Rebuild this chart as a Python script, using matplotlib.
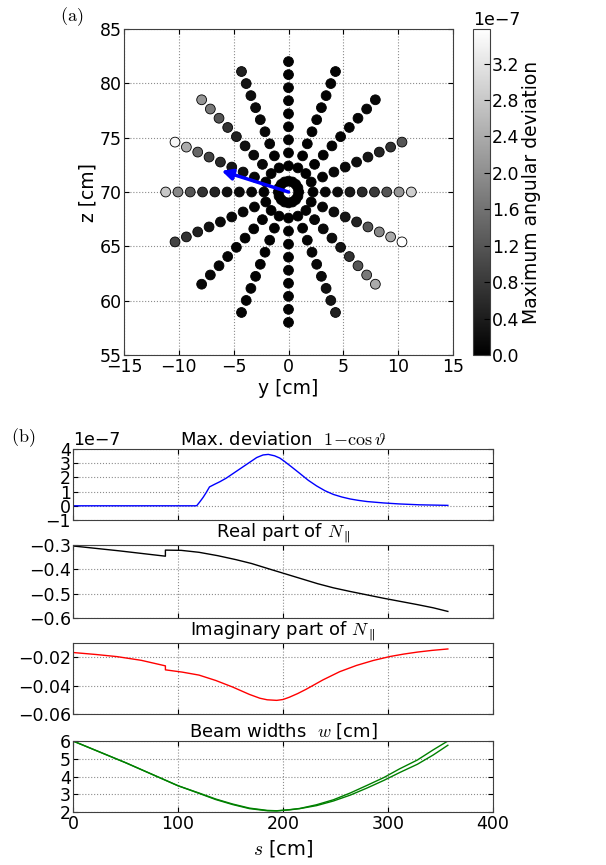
import matplotlib
matplotlib.use('Agg')
import matplotlib.pyplot as plt
from matplotlib.ticker import ScalarFormatter
import numpy as np

plt.rcParams['mathtext.fontset'] = 'cm'
plt.rcParams['font.family'] = 'DejaVu Sans'
plt.rcParams['xtick.direction'] = 'in'
plt.rcParams['ytick.direction'] = 'in'
plt.rcParams['xtick.top'] = True
plt.rcParams['ytick.right'] = True
plt.rcParams['xtick.labelsize'] = 12.5
plt.rcParams['ytick.labelsize'] = 12.5
plt.rcParams['xtick.major.pad'] = 2.5
plt.rcParams['ytick.major.pad'] = 1.5
plt.rcParams['axes.formatter.use_mathtext'] = False

# ---- (a) launch points: 16 rays, 10 rings per ray ----
ray_angle_deg = [0, 22.5, 45, 67.5, 90, 112.5, 135, 157.5,
                 180, 202.5, 225, 247.5, 270, 292.5, 315, 337.5]
ring_r_y = [0.93, 2.24, 3.36, 4.48, 5.6, 6.72, 7.84, 8.96, 10.08, 11.2]
ring_r_z = [1.0, 2.4, 3.6, 4.8, 6.0, 7.2, 8.4, 9.6, 10.8, 12.0]
center_y, center_z = 0.0, 70.0

# max angular deviation per ray (inner -> outer), units 1e-7
dev_by_ray = [
    [0.0, 0.05, 0.1, 0.15, 0.35, 0.6, 0.8, 1.2, 2.1, 2.9],     # 0
    [0.0, 0.05, 0.05, 0.1, 0.15, 0.2, 0.3, 0.5, 0.7, 1.2],     # 22.5
    [0.0, 0.02, 0.03, 0.04, 0.05, 0.05, 0.06, 0.08, 0.1, 0.12],  # 45
    [0.0, 0.02, 0.02, 0.03, 0.03, 0.04, 0.05, 0.05, 0.06, 0.08],  # 67.5
    [0.0, 0.01, 0.01, 0.02, 0.02, 0.02, 0.02, 0.03, 0.03, 0.03],  # 90
    [0.0, 0.03, 0.05, 0.08, 0.1, 0.12, 0.15, 0.2, 0.3, 0.45],  # 112.5
    [0.0, 0.05, 0.1, 0.15, 0.25, 0.45, 0.7, 1.2, 1.7, 2.1],    # 135
    [0.0, 0.05, 0.1, 0.2, 0.3, 0.6, 0.95, 1.45, 2.4, 3.45],    # 157.5
    [0.0, 0.05, 0.1, 0.15, 0.25, 0.5, 0.7, 1.2, 1.9, 2.8],     # 180
    [0.0, 0.05, 0.05, 0.1, 0.1, 0.15, 0.25, 0.45, 0.7, 0.95],  # 202.5
    [0.0, 0.02, 0.03, 0.04, 0.05, 0.05, 0.06, 0.08, 0.1, 0.12],  # 225
    [0.0, 0.02, 0.02, 0.03, 0.03, 0.04, 0.05, 0.05, 0.06, 0.08],  # 247.5
    [0.0, 0.01, 0.01, 0.02, 0.02, 0.02, 0.02, 0.03, 0.03, 0.03],  # 270
    [0.0, 0.03, 0.05, 0.08, 0.1, 0.12, 0.15, 0.25, 0.3, 0.45],  # 292.5
    [0.0, 0.05, 0.1, 0.15, 0.2, 0.3, 0.7, 1.2, 1.7, 2.4],      # 315
    [0.0, 0.05, 0.1, 0.2, 0.3, 0.5, 1.2, 1.9, 2.4, 3.58],      # 337.5
]
arrow_dy, arrow_dz = -6.1, 1.95

# ---- (b) quantities along the central ray ----
s_dev = [0, 117, 118, 121, 124, 127, 130, 135, 140, 146, 152, 160, 168, 175,
         181, 186, 192, 197, 201, 208, 216, 224, 232, 240, 248, 256, 264, 272,
         280, 296, 311, 330, 357]
max_dev = [0, 0, 0.02, 0.3, 0.6, 0.95, 1.33, 1.52, 1.7, 1.95, 2.25, 2.65, 3.05,
           3.4, 3.58, 3.62, 3.52, 3.36, 3.15, 2.75, 2.28, 1.8, 1.4, 1.06, 0.8,
           0.62, 0.48, 0.38, 0.3, 0.2, 0.13, 0.07, 0.03]

s_re = [0, 44, 88, 88, 103, 120, 138, 155, 170, 188, 201, 217, 233, 248, 264,
        280, 296, 312, 328, 343, 357]
re_npar = [-0.304, -0.324, -0.346, -0.321, -0.322, -0.33, -0.344, -0.36,
           -0.376, -0.4, -0.417, -0.438, -0.459, -0.476, -0.491, -0.505,
           -0.519, -0.532, -0.545, -0.558, -0.573]

s_im = [0, 22, 42, 65, 88, 88, 104, 120, 136, 152, 168, 178, 185, 194, 200,
        206, 214, 222, 238, 254, 270, 286, 302, 315, 328, 342, 357]
im_npar = [-0.0167, -0.0181, -0.0196, -0.0222, -0.0261, -0.0289, -0.0305,
           -0.0326, -0.0364, -0.041, -0.0462, -0.0489, -0.0500, -0.0504,
           -0.0498, -0.0482, -0.0456, -0.0426, -0.0360, -0.0302, -0.0258,
           -0.0223, -0.0195, -0.0178, -0.0164, -0.0152, -0.0142]

s_w = [0, 50, 100, 120, 136, 152, 168, 185, 194, 206, 216, 232, 248, 264,
       280, 296, 311, 328, 343, 357]
width_1 = [6.0, 4.78, 3.48, 3.07, 2.73, 2.45, 2.22, 2.09, 2.07, 2.13, 2.2,
           2.41, 2.69, 3.07, 3.5, 3.94, 4.43, 4.93, 5.5, 6.0]
width_2 = [6.0, 4.78, 3.48, 3.05, 2.70, 2.42, 2.19, 2.07, 2.06, 2.12, 2.19,
           2.36, 2.62, 2.95, 3.35, 3.78, 4.22, 4.69, 5.21, 5.76]

W, H = 606, 865
fig = plt.figure(figsize=(W / 100, H / 100), dpi=100, facecolor='white')


def box(l, t, r, b):
    return [l / W, 1 - b / H, (r - l) / W, (b - t) / H]


def grid(ax):
    ax.grid(True, color='0.55', linestyle=':', linewidth=0.8)
    ax.set_axisbelow(True)
    for sp in ax.spines.values():
        sp.set_color('0.25')


# ---- panel (a) ----
ax = fig.add_axes(box(124, 29, 453, 355))
ys, zs, cs = [], [], []
for ang, devs in zip(ray_angle_deg, dev_by_ray):
    a = np.deg2rad(ang)
    for ry, rz, d in zip(ring_r_y, ring_r_z, devs):
        ys.append(center_y + ry * np.cos(a))
        zs.append(center_z + rz * np.sin(a))
        cs.append(d * 1e-7)
sc = ax.scatter(ys, zs, c=cs, cmap='gray', vmin=0, vmax=max(cs), s=50,
                edgecolors='k', linewidths=0.6, zorder=3)
ax.annotate('', xy=(center_y + arrow_dy, center_z + arrow_dz),
            xytext=(center_y, center_z),
            arrowprops=dict(arrowstyle='-|>', color='blue', lw=2.5,
                            mutation_scale=16, shrinkA=0, shrinkB=0),
            zorder=5)
ax.set_xlim(-15, 15)
ax.set_ylim(55, 85)
ax.set_xticks([-15, -10, -5, 0, 5, 10, 15])
ax.set_yticks([55, 60, 65, 70, 75, 80, 85])
ax.set_xlabel('y [cm]', fontsize=13.5, labelpad=2)
ax.set_ylabel('z [cm]', fontsize=13.5, labelpad=2)
grid(ax)

cax = fig.add_axes(box(473, 29, 490, 355))
cb = fig.colorbar(sc, cax=cax)
cb.set_ticks([v * 1e-7 for v in [0, 0.4, 0.8, 1.2, 1.6, 2.0, 2.4, 2.8, 3.2]])
fmt = ScalarFormatter(useMathText=False)
fmt.set_powerlimits((-3, 3))
cb.formatter = fmt
cb.update_ticks()
cb.ax.yaxis.set_offset_position('left')
cb.ax.yaxis.get_offset_text().set_fontsize(12.5)
cb.set_label('Maximum angular deviation', fontsize=13.5, labelpad=2)
cb.ax.tick_params(direction='in', length=4, pad=1.5)
cb.outline.set_edgecolor('0.25')

fig.text(72 / W, 1 - 17 / H, r'$\mathrm{(a)}$', fontsize=13, ha='center', va='center')
fig.text(23 / W, 1 - 438 / H, r'$\mathrm{(b)}$', fontsize=13, ha='center', va='center')

# ---- panel (b) ----
boxes = [(449, 520), (545, 618), (643, 714), (741, 812)]
axs = [fig.add_axes(box(73, t, 493, b)) for t, b in boxes]

a1 = axs[0]
a1.plot(s_dev, [v * 1e-7 for v in max_dev], color='b', lw=1)
a1.set_ylim(-1e-7, 4e-7)
a1.set_yticks([v * 1e-7 for v in [-1, 0, 1, 2, 3, 4]])
f1 = ScalarFormatter(useMathText=False)
f1.set_powerlimits((-3, 3))
a1.yaxis.set_major_formatter(f1)
a1.yaxis.get_offset_text().set_fontsize(12.5)
a1.set_title(r'Max. deviation  $1\!-\!\cos\vartheta$', fontsize=13, pad=3)

a2 = axs[1]
a2.plot(s_re, re_npar, color='k', lw=1)
a2.set_ylim(-0.6, -0.3)
a2.set_yticks([-0.6, -0.5, -0.4, -0.3])
a2.set_title(r'Real part of $N_\parallel$', fontsize=13, pad=3)

a3 = axs[2]
a3.plot(s_im, im_npar, color='r', lw=1)
a3.set_ylim(-0.06, -0.01)
a3.set_yticks([-0.06, -0.04, -0.02])
a3.set_title(r'Imaginary part of $N_\parallel$', fontsize=13, pad=3)

a4 = axs[3]
a4.plot(s_w, width_1, color='g', lw=1)
a4.plot(s_w, width_2, color='g', lw=1)
a4.set_ylim(2, 6)
a4.set_yticks([2, 3, 4, 5, 6])
a4.set_title(r'Beam widths  $w$ [cm]', fontsize=13, pad=3)
a4.set_xlabel(r'$s$ [cm]', fontsize=14, labelpad=3)

for a in axs:
    a.set_xlim(0, 400)
    a.set_xticks([0, 100, 200, 300, 400])
    grid(a)
for a in axs[:3]:
    a.tick_params(labelbottom=False)

fig.savefig('out.png', dpi=100, facecolor='white')
